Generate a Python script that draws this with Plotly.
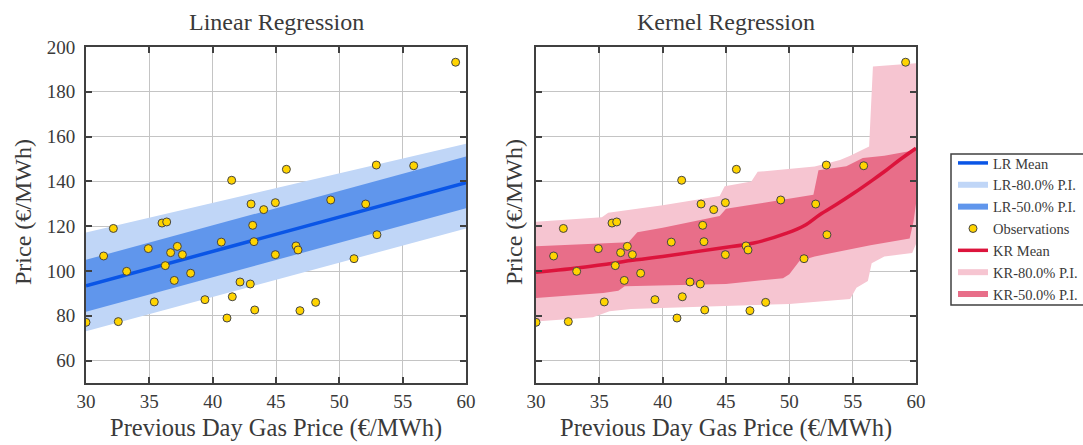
import plotly.graph_objects as go

# Observations: previous-day gas price vs. electricity price
gas_price = [59.18, 30.0, 32.55, 31.39, 32.16, 33.21, 34.92, 35.39, 36.0, 36.37,
             36.26, 36.68, 36.97, 37.21, 37.61, 38.26, 39.39, 40.68, 41.13, 41.50,
             41.55, 42.16, 42.97, 43.03, 43.16, 43.26, 43.32, 44.03, 44.95, 44.95,
             45.82, 46.58, 46.74, 46.89, 48.13, 49.32, 51.16, 52.08, 52.92, 52.97,
             55.87]
power_price = [193.2, 77.1, 77.4, 106.7, 119.0, 99.85, 110.0, 86.2, 121.4, 121.9,
               102.4, 108.2, 95.8, 111.0, 107.3, 99.0, 87.2, 112.9, 79.0, 140.5,
               88.5, 95.1, 94.2, 129.9, 120.4, 113.1, 82.6, 127.4, 130.5, 107.3,
               145.4, 111.2, 109.4, 82.3, 86.0, 131.7, 105.5, 129.9, 147.3, 116.2,
               147.0]

# Linear regression: mean and prediction intervals at the ends of the x range
lr_x = [30, 60]
lr_mean = [93.4, 139.4]
lr_lo50 = [81.8, 128.0]
lr_hi50 = [105.0, 151.1]
lr_lo80 = [73.1, 119.0]
lr_hi80 = [117.2, 156.8]

# Kernel regression mean curve
kr_mean_x = [30, 33.9, 37.9, 40, 44.5, 47.2, 49.8, 51.2, 52.4, 53.8, 55.1, 56.6, 57.7, 58.8, 60]
kr_mean_y = [99.4, 101.8, 105.0, 106.5, 110.2, 112.5, 116.9, 120.3, 125.1, 130.0, 134.8, 140.7, 145.2, 150.0, 154.8]

# Kernel regression 50% prediction interval
kr50_hi_x = [30, 37.3, 38.0, 40, 44.5, 45.0, 48, 51.9, 52.3, 54.5, 55.8, 57.5, 60]
kr50_hi_y = [111.0, 112.8, 117.3, 119.3, 124.5, 127.8, 130.5, 134.0, 145.0, 146.8, 150.5, 151.5, 154.0]
kr50_lo_x = [30, 35.3, 36.5, 37.0, 45, 49.5, 50.0, 50.8, 52, 56.4, 59.5, 59.8, 60]
kr50_lo_y = [88.0, 90.2, 91.2, 93.2, 94.2, 96.8, 98.5, 104.5, 106.5, 111.5, 114.5, 122.0, 130.0]

# Kernel regression 80% prediction interval
kr80_hi_x = [30, 35.2, 35.7, 40, 44.5, 44.9, 47.0, 47.5, 52, 54.0, 54.8, 56.3, 56.6, 60]
kr80_hi_y = [122.0, 124.0, 126.0, 129.3, 133.5, 137.8, 140.0, 144.3, 146.6, 149.6, 151.5, 155.6, 191.3, 192.7]
kr80_lo_x = [30, 34.5, 35.8, 37.5, 43, 50, 54.8, 55.3, 56.2, 56.5, 57.5, 59.7, 60]
kr80_lo_y = [77.5, 79.3, 82.0, 83.0, 84.0, 85.3, 87.5, 92.5, 95.5, 103.5, 106.5, 108.0, 112.0]

x_ticks = [30, 35, 40, 45, 50, 55, 60]
y_ticks = [60, 80, 100, 120, 140, 160, 180, 200]

SERIF = "Liberation Serif"
TEXT = "#3a3a3a"
FRAME = "#404040"

LR_MEAN_C = "#0a55e6"
LR80_C = "rgb(192,214,247)"
LR50_C = "rgb(96,150,236)"
KR_MEAN_C = "rgb(220,20,60)"
KR80_C = "rgb(246,197,209)"
KR50_C = "rgb(232,110,137)"


def band(xs_hi, ys_hi, xs_lo, ys_lo):
    return list(xs_hi) + list(reversed(xs_lo)), list(ys_hi) + list(reversed(ys_lo))


fig = go.Figure()

# ---- Linear regression panel ----
bx, by = band(lr_x, lr_hi80, lr_x, lr_lo80)
fig.add_trace(go.Scatter(x=bx, y=by, fill="toself", fillcolor=LR80_C, mode="none",
                         name="LR-80.0% P.I.", legendrank=2, xaxis="x", yaxis="y"))
bx, by = band(lr_x, lr_hi50, lr_x, lr_lo50)
fig.add_trace(go.Scatter(x=bx, y=by, fill="toself", fillcolor=LR50_C, mode="none",
                         name="LR-50.0% P.I.", legendrank=3, xaxis="x", yaxis="y"))
fig.add_trace(go.Scatter(x=lr_x, y=lr_mean, mode="lines", line=dict(color=LR_MEAN_C, width=3.5),
                         name="LR Mean", legendrank=1, xaxis="x", yaxis="y"))
fig.add_trace(go.Scatter(x=gas_price, y=power_price, mode="markers",
                         marker=dict(color="#FFD400", size=8, line=dict(color="#444444", width=1)),
                         name="Observations", legendrank=4, xaxis="x", yaxis="y"))

# ---- Kernel regression panel ----
bx, by = band(kr80_hi_x, kr80_hi_y, kr80_lo_x, kr80_lo_y)
fig.add_trace(go.Scatter(x=bx, y=by, fill="toself", fillcolor=KR80_C, mode="none",
                         name="KR-80.0% P.I.", legendrank=6, xaxis="x2", yaxis="y2"))
bx, by = band(kr50_hi_x, kr50_hi_y, kr50_lo_x, kr50_lo_y)
fig.add_trace(go.Scatter(x=bx, y=by, fill="toself", fillcolor=KR50_C, mode="none",
                         name="KR-50.0% P.I.", legendrank=7, xaxis="x2", yaxis="y2"))
fig.add_trace(go.Scatter(x=kr_mean_x, y=kr_mean_y, mode="lines", line_shape="spline",
                         line=dict(color=KR_MEAN_C, width=3.5),
                         name="KR Mean", legendrank=5, xaxis="x2", yaxis="y2"))
fig.add_trace(go.Scatter(x=gas_price, y=power_price, mode="markers",
                         marker=dict(color="#FFD400", size=8, line=dict(color="#444444", width=1)),
                         showlegend=False, xaxis="x2", yaxis="y2"))

W, H = 1083, 445
PLOT_TOP, PLOT_BOTTOM = 47, 383
axis_common = dict(
    showline=True, linecolor=FRAME, linewidth=2, mirror="ticks",
    ticks="inside", ticklen=6, tickwidth=1.5, tickcolor=FRAME,
    showgrid=True, gridcolor="#c4c4c4", gridwidth=1, zeroline=False,
    tickfont=dict(family=SERIF, size=19, color=TEXT),
)
xcommon = dict(axis_common, range=[30, 60], tickvals=x_ticks)
ycommon = dict(axis_common, range=[50, 200], tickvals=y_ticks, ticklabelstandoff=5,
               domain=[1 - PLOT_BOTTOM / H, 1 - PLOT_TOP / H])


def label(text, x_px, y_px, size, angle=0):
    return dict(text=text, x=x_px / W, y=1 - y_px / H, xref="paper", yref="paper",
                xanchor="center", yanchor="middle", showarrow=False, textangle=angle,
                font=dict(family=SERIF, size=size, color=TEXT))


fig.update_layout(
    width=W, height=H,
    margin=dict(l=0, r=0, t=0, b=0, autoexpand=False),
    paper_bgcolor="white", plot_bgcolor="white",
    xaxis=dict(xcommon, domain=[86 / W, 466 / W], anchor="y"),
    yaxis=dict(ycommon, anchor="x"),
    xaxis2=dict(xcommon, domain=[536 / W, 916 / W], anchor="y2"),
    yaxis2=dict(ycommon, anchor="x2", showticklabels=False),
    legend=dict(x=953 / W, y=1 - 147 / H, xanchor="left", yanchor="top",
                borderwidth=0, bgcolor="rgba(0,0,0,0)",
                font=dict(family=SERIF, size=14.5, color=TEXT),
                tracegroupgap=0, itemwidth=30),
    shapes=[
        # legend frame
        dict(type="rect", xref="paper", yref="paper",
             x0=951 / W, x1=1.02, y0=1 - 305 / H, y1=1 - 154 / H,
             line=dict(color=FRAME, width=1.5), fillcolor="rgba(0,0,0,0)", layer="above"),
    ],
    annotations=[
        label("Linear Regression", (86 + 466) / 2, 22, 24),
        label("Kernel Regression", (536 + 916) / 2, 22, 24),
        label("Previous Day Gas Price (€/MWh)", (86 + 466) / 2, 428, 24.5),
        label("Previous Day Gas Price (€/MWh)", (536 + 916) / 2, 428, 24.5),
        label("Price (€/MWh)", 23, 212, 24, angle=-90),
        label("Price (€/MWh)", 514, 212, 24, angle=-90),
    ],
    showlegend=True,
)

fig.write_html("out.html")
